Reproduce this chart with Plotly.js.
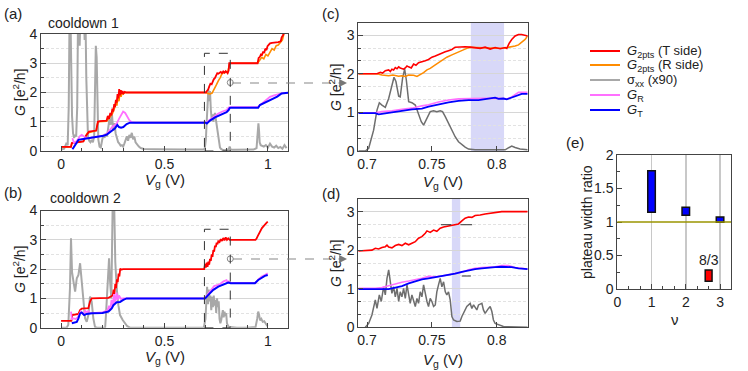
<!DOCTYPE html>
<html>
<head>
<meta charset="utf-8">
<script src="https://cdn.plot.ly/plotly-3.0.1.min.js"></script>
<style>
  body { margin: 0; background: #fff; }
  #plot { width: 748px; height: 371px; }
</style>
</head>
<body>
<div id="plot"></div>
<script>
// ---- panel (a): cooldown 1, full sweep ----
var aRedV = [0, 0.048, 0.052, 0.1, 0.108, 0.118, 0.128, 0.135, 0.17, 0.178, 0.188, 0.22, 0.226, 0.232, 0.238, 0.243, 0.248, 0.252, 0.257, 0.261, 0.265, 0.269, 0.273, 0.277, 0.281, 0.285, 0.289, 0.293, 0.297, 0.302, 0.308, 0.315, 0.33, 0.7, 0.705, 0.711, 0.716, 0.722, 0.728, 0.733, 0.738, 0.744, 0.75, 0.755, 0.76, 0.766, 0.772, 0.778, 0.784, 0.79, 0.796, 0.8, 0.805, 0.81, 0.813, 0.82, 0.95, 0.955, 0.961, 0.966, 0.971, 0.977, 0.982, 0.987, 0.993, 0.998, 1.004, 1.01, 1.02, 1.034, 1.05, 1.062, 1.066, 1.072, 1.077];
var aRedG = [0.14, 0.14, 0.27, 0.3, 0.33, 0.5, 0.62, 0.66, 0.7, 1.0, 1.02, 1.04, 1.2, 1.1, 1.3, 1.22, 1.45, 1.35, 1.6, 1.5, 1.75, 1.65, 1.95, 1.8, 2.12, 1.9, 2.08, 1.95, 2.05, 1.97, 2.02, 2.0, 2.0, 2.0, 2.05, 2.1, 2.2, 2.3, 2.28, 2.4, 2.45, 2.5, 2.58, 2.66, 2.64, 2.68, 2.7, 2.66, 2.72, 2.68, 2.73, 2.7, 2.66, 2.75, 3.0, 3.0, 3.0, 3.18, 3.22, 3.3, 3.28, 3.4, 3.35, 3.5, 3.45, 3.58, 3.62, 3.68, 3.7, 3.7, 3.72, 3.75, 3.88, 3.95, 4.02];
var aOrangeV = [0, 0.048, 0.052, 0.1, 0.108, 0.118, 0.128, 0.17, 0.178, 0.22, 0.23, 0.24, 0.25, 0.26, 0.265, 0.27, 0.275, 0.28, 0.285, 0.29, 0.295, 0.3, 0.31, 0.33, 0.7, 0.71, 0.72, 0.73, 0.74, 0.75, 0.76, 0.765, 0.77, 0.775, 0.78, 0.79, 0.8, 0.805, 0.81, 0.815, 0.82, 0.95, 0.96, 0.97, 0.98, 0.99, 1.0, 1.01, 1.02, 1.03, 1.04, 1.05, 1.06, 1.07, 1.077];
var aOrangeG = [0.14, 0.14, 0.27, 0.3, 0.33, 0.5, 0.62, 0.7, 1.0, 1.02, 1.1, 1.2, 1.3, 1.5, 1.7, 1.55, 1.9, 1.7, 2.05, 1.85, 2.0, 1.95, 2.0, 2.0, 2.0, 1.97, 1.95, 1.98, 2.1, 2.25, 2.4, 2.45, 2.52, 2.6, 2.66, 2.68, 2.7, 2.68, 2.85, 2.98, 3.0, 3.0, 3.1, 3.2, 3.15, 3.3, 3.25, 3.4, 3.5, 3.45, 3.6, 3.62, 3.7, 3.8, 4.0];
var aGrayV = [0, 0.015, 0.025, 0.032, 0.037, 0.041, 0.045, 0.049, 0.053, 0.058, 0.063, 0.068, 0.073, 0.078, 0.082, 0.086, 0.09, 0.094, 0.098, 0.102, 0.106, 0.11, 0.114, 0.118, 0.122, 0.126, 0.13, 0.136, 0.142, 0.148, 0.154, 0.16, 0.164, 0.168, 0.172, 0.176, 0.18, 0.186, 0.192, 0.198, 0.204, 0.21, 0.216, 0.222, 0.228, 0.234, 0.24, 0.246, 0.252, 0.258, 0.264, 0.27, 0.276, 0.282, 0.288, 0.294, 0.3, 0.306, 0.312, 0.318, 0.324, 0.33, 0.336, 0.342, 0.348, 0.354, 0.36, 0.368, 0.376, 0.385, 0.4, 0.45, 0.5, 0.55, 0.6, 0.65, 0.69, 0.695, 0.7, 0.704, 0.708, 0.712, 0.716, 0.72, 0.724, 0.728, 0.732, 0.736, 0.74, 0.744, 0.748, 0.752, 0.756, 0.76, 0.764, 0.768, 0.772, 0.776, 0.78, 0.79, 0.8, 0.81, 0.815, 0.82, 0.83, 0.86, 0.9, 0.93, 0.945, 0.95, 0.954, 0.957, 0.96, 0.965, 0.97, 0.98, 0.99, 1.0, 1.01, 1.02, 1.03, 1.04, 1.05, 1.06, 1.07, 1.08, 1.09];
var aGrayG = [0.05, 0.08, 0.25, 0.2, 1.5, 4.6, 4.8, 3.0, 1.2, 0.6, 0.45, 0.55, 0.5, 1.5, 4.6, 4.5, 3.6, 4.7, 4.2, 4.8, 4.4, 4.7, 3.8, 4.6, 2.5, 1.0, 0.5, 0.35, 0.3, 0.38, 0.3, 0.5, 2.5, 3.6, 3.2, 1.5, 0.4, 0.15, 0.12, 0.35, 0.55, 0.45, 0.6, 0.5, 0.8, 1.1, 0.9, 1.25, 0.7, 0.95, 0.6, 0.45, 0.3, 0.25, 0.18, 0.2, 0.15, 0.25, 0.4, 0.5, 0.35, 0.55, 0.45, 0.62, 0.4, 0.5, 0.3, 0.2, 0.15, 0.1, 0.07, 0.06, 0.05, 0.06, 0.05, 0.05, 0.05, 0.1, 0.4, 1.0, 1.6, 2.1, 1.7, 2.05, 1.4, 1.1, 1.25, 1.0, 1.2, 1.3, 1.1, 0.9, 0.6, 0.4, 0.2, 0.12, 0.08, 0.05, 0.04, 0.03, 0.04, 0.06, 0.15, 0.05, 0.04, 0.04, 0.05, 0.05, 0.1, 0.5, 0.95, 0.7, 0.3, 0.2, 0.18, 0.15, 0.2, 0.12, 0.25, 0.15, 0.12, 0.18, 0.1, 0.14, 0.08, 0.2, 0.1];
var aMagV = [0.055, 0.058, 0.062, 0.07, 0.08, 0.09, 0.1, 0.11, 0.12, 0.14, 0.16, 0.18, 0.2, 0.22, 0.23, 0.24, 0.25, 0.26, 0.27, 0.28, 0.29, 0.3, 0.31, 0.32, 0.33, 0.34, 0.36, 0.7, 0.72, 0.74, 0.76, 0.78, 0.8, 0.813, 0.82, 0.95, 0.97, 0.99, 1.01, 1.03, 1.05, 1.07, 1.098];
var aMagG = [0.44, 0.35, 0.28, 0.3, 0.38, 0.5, 0.55, 0.5, 0.45, 0.45, 0.48, 0.5, 0.52, 0.58, 0.68, 0.78, 0.85, 0.88, 0.95, 1.1, 1.25, 1.35, 1.3, 1.15, 1.05, 0.99, 0.97, 0.97, 1.08, 1.2, 1.28, 1.35, 1.4, 1.5, 1.5, 1.5, 1.62, 1.75, 1.85, 1.9, 1.95, 1.98, 1.99];
var aBlueV = [0.055, 0.065, 0.076, 0.084, 0.1, 0.12, 0.14, 0.17, 0.205, 0.221, 0.237, 0.25, 0.261, 0.272, 0.28, 0.29, 0.301, 0.317, 0.333, 0.35, 0.7, 0.705, 0.72, 0.744, 0.768, 0.8, 0.81, 0.815, 0.82, 0.953, 0.961, 0.975, 0.993, 1.01, 1.026, 1.045, 1.066, 1.08, 1.098];
var aBlueG = [0.06, 0.18, 0.32, 0.38, 0.4, 0.42, 0.45, 0.49, 0.52, 0.56, 0.66, 0.72, 0.78, 0.89, 0.82, 0.8, 0.82, 0.92, 0.97, 0.97, 0.97, 0.94, 1.04, 1.15, 1.23, 1.33, 1.4, 1.47, 1.48, 1.48, 1.57, 1.62, 1.68, 1.72, 1.8, 1.86, 1.97, 1.99, 1.99];

// ---- panel (b): cooldown 2, full sweep ----
var bRedV = [0, 0.05, 0.054, 0.07, 0.084, 0.092, 0.1, 0.132, 0.14, 0.148, 0.229, 0.245, 0.25, 0.254, 0.258, 0.262, 0.266, 0.27, 0.274, 0.278, 0.282, 0.286, 0.29, 0.3, 0.5, 0.692, 0.696, 0.7, 0.704, 0.708, 0.712, 0.716, 0.72, 0.724, 0.728, 0.732, 0.736, 0.74, 0.744, 0.748, 0.752, 0.756, 0.76, 0.766, 0.772, 0.778, 0.784, 0.79, 0.796, 0.802, 0.808, 0.815, 0.94, 0.945, 0.95, 0.955, 0.961, 0.966, 0.971, 0.977, 0.982, 0.987, 0.993, 0.999];
var bRedG = [0.23, 0.23, 0.43, 0.46, 0.47, 0.6, 0.65, 0.67, 0.89, 1.0, 1.02, 1.08, 1.12, 1.3, 1.15, 1.5, 1.35, 1.65, 1.55, 1.85, 1.75, 2.02, 1.98, 2.0, 2.0, 2.0, 2.18, 2.05, 2.22, 2.08, 2.25, 2.15, 2.35, 2.28, 2.5, 2.42, 2.65, 2.6, 2.8, 2.75, 2.9, 2.85, 2.95, 2.92, 3.02, 2.96, 3.06, 2.98, 3.08, 3.0, 3.05, 3.0, 3.0, 3.04, 3.12, 3.2, 3.28, 3.34, 3.4, 3.45, 3.5, 3.55, 3.58, 3.62];
var bGrayV = [0, 0.027, 0.035, 0.043, 0.048, 0.053, 0.06, 0.068, 0.076, 0.084, 0.092, 0.1, 0.108, 0.116, 0.124, 0.132, 0.14, 0.148, 0.156, 0.164, 0.172, 0.213, 0.217, 0.225, 0.232, 0.237, 0.243, 0.25, 0.256, 0.262, 0.269, 0.277, 0.285, 0.298, 0.309, 0.32, 0.333, 0.5, 0.69, 0.698, 0.702, 0.706, 0.71, 0.714, 0.718, 0.722, 0.726, 0.73, 0.734, 0.738, 0.742, 0.746, 0.75, 0.754, 0.758, 0.762, 0.766, 0.77, 0.774, 0.778, 0.782, 0.786, 0.79, 0.794, 0.798, 0.802, 0.808, 0.815, 0.85, 0.9, 0.94, 0.948, 0.953, 0.957, 0.962, 0.968, 0.975, 0.982, 0.99, 0.998];
var bGrayG = [0, 0, 0.1, 1.34, 3.05, 1.9, 1.57, 1.23, 1.69, 1.8, 2.2, 1.57, 0.77, 0.32, 0.2, 0.43, 1.06, 0.89, 0.32, 0.03, 0, 0, 0.43, 1.69, 2.37, 1.57, 1.0, 4.5, 4.5, 2.26, 1.34, 0.77, 0.43, 0.26, 0.15, 0.05, 0, 0, 0, 0.3, 0.9, 1.4, 0.8, 1.3, 0.9, 1.1, 0.6, 1.05, 0.7, 1.1, 0.75, 0.95, 0.5, 1.0, 0.7, 0.9, 0.3, 0.15, 0.25, 0.45, 0.6, 0.35, 0.55, 0.4, 0.5, 0.15, 0.05, 0.02, 0, 0, 0.02, 0.3, 0.55, 0.45, 0.25, 0.3, 0.2, 0.22, 0.12, 0.05];
var bMagV = [0.048, 0.052, 0.06, 0.07, 0.08, 0.088, 0.095, 0.1, 0.108, 0.116, 0.124, 0.132, 0.14, 0.15, 0.2, 0.225, 0.232, 0.238, 0.244, 0.25, 0.256, 0.262, 0.268, 0.274, 0.28, 0.29, 0.3, 0.317, 0.5, 0.696, 0.71, 0.725, 0.74, 0.755, 0.77, 0.785, 0.8, 0.805, 0.81, 0.82, 0.94, 0.955, 0.97, 0.985, 0.999];
var bMagG = [0.55, 0.3, 0.32, 0.3, 0.35, 0.45, 0.55, 0.5, 0.45, 0.58, 0.52, 0.57, 0.5, 0.5, 0.52, 0.6, 0.75, 0.6, 0.95, 0.7, 1.15, 0.85, 1.2, 0.95, 1.1, 0.98, 1.0, 1.0, 1.0, 1.0, 1.15, 1.3, 1.42, 1.45, 1.5, 1.58, 1.62, 1.55, 1.58, 1.53, 1.53, 1.66, 1.75, 1.8, 1.86];
var bBlueV = [0.052, 0.065, 0.076, 0.084, 0.092, 0.1, 0.106, 0.112, 0.124, 0.15, 0.2, 0.229, 0.245, 0.253, 0.269, 0.285, 0.301, 0.317, 0.5, 0.696, 0.712, 0.736, 0.76, 0.784, 0.808, 0.82, 0.937, 0.953, 0.97, 0.985, 0.999];
var bBlueG = [0.15, 0.17, 0.2, 0.32, 0.49, 0.52, 0.47, 0.43, 0.47, 0.49, 0.5, 0.55, 0.66, 0.77, 0.87, 0.88, 0.95, 1.0, 1.0, 1.0, 1.12, 1.29, 1.4, 1.48, 1.54, 1.52, 1.52, 1.63, 1.71, 1.77, 1.8];

// ---- panel (c): cooldown 1, zoom ----
var cRedV = [0.6933, 0.7077, 0.7103, 0.712, 0.7141, 0.7167, 0.718, 0.7192, 0.7205, 0.7218, 0.7231, 0.7244, 0.7256, 0.7269, 0.7282, 0.7295, 0.7308, 0.732, 0.7341, 0.7359, 0.7377, 0.7397, 0.7423, 0.7449, 0.7474, 0.75, 0.7526, 0.7551, 0.7577, 0.7603, 0.7628, 0.7654, 0.7679, 0.7705, 0.7756, 0.7795, 0.7833, 0.7872, 0.791, 0.7949, 0.7987, 0.8026, 0.8064, 0.8077, 0.8095, 0.8115, 0.8141, 0.8167, 0.8192, 0.8218, 0.8238];
var cRedG = [2.0, 2.0, 2.04, 2.02, 2.08, 2.1, 2.06, 2.12, 2.1, 2.16, 2.13, 2.18, 2.15, 2.14, 2.12, 2.15, 2.2, 2.18, 2.15, 2.25, 2.22, 2.29, 2.31, 2.34, 2.37, 2.43, 2.46, 2.5, 2.53, 2.57, 2.6, 2.63, 2.69, 2.7, 2.7, 2.69, 2.68, 2.66, 2.69, 2.64, 2.68, 2.65, 2.68, 2.66, 2.79, 2.89, 2.98, 3.02, 3.02, 2.99, 2.98];
var cOrangeV = [0.6933, 0.7077, 0.7115, 0.7167, 0.72, 0.7218, 0.7244, 0.7269, 0.7295, 0.732, 0.7359, 0.7385, 0.741, 0.7436, 0.7462, 0.7487, 0.7526, 0.7551, 0.7577, 0.7615, 0.7654, 0.7692, 0.7731, 0.7769, 0.7795, 0.79, 0.8, 0.8064, 0.8103, 0.8128, 0.8141, 0.8167, 0.8192, 0.8218, 0.8238];
var cOrangeG = [2.0, 2.0, 1.97, 1.95, 1.97, 1.96, 1.94, 1.95, 1.93, 1.97, 1.96, 1.93, 1.97, 2.03, 2.1, 2.14, 2.23, 2.29, 2.36, 2.43, 2.49, 2.55, 2.6, 2.66, 2.69, 2.67, 2.66, 2.67, 2.69, 2.7, 2.72, 2.75, 2.81, 2.89, 2.98];
var cGrayV = [0.6933, 0.6987, 0.7013, 0.7051, 0.7077, 0.7095, 0.7115, 0.7141, 0.7167, 0.7192, 0.7208, 0.7223, 0.7244, 0.7256, 0.7274, 0.729, 0.7303, 0.7321, 0.7346, 0.7372, 0.7397, 0.7418, 0.7436, 0.7462, 0.7487, 0.7513, 0.7538, 0.7564, 0.7582, 0.7603, 0.7628, 0.7654, 0.7679, 0.7705, 0.7731, 0.7756, 0.7782, 0.7833, 0.8064, 0.809, 0.8115, 0.8141, 0.8179, 0.8238];
var cGrayG = [0, 0, 0.07, 0.54, 1.06, 1.25, 1.19, 1.13, 1.36, 1.75, 1.91, 1.8, 1.42, 1.4, 1.88, 2.12, 1.84, 1.28, 1.25, 1.19, 0.98, 0.76, 0.67, 0.85, 1.02, 1.04, 1.02, 1.04, 1.02, 0.89, 0.72, 0.54, 0.37, 0.24, 0.16, 0.1, 0.05, 0.03, 0.03, 0.09, 0.13, 0.09, 0.05, 0.03];
var cMagV = [0.6933, 0.7064, 0.7115, 0.7192, 0.7269, 0.7346, 0.7423, 0.7474, 0.7551, 0.7628, 0.7705, 0.7782, 0.79, 0.8, 0.8077, 0.8115, 0.8167, 0.8238];
var cMagG = [0.99, 0.99, 1.02, 1.04, 1.08, 1.11, 1.17, 1.2, 1.27, 1.32, 1.35, 1.36, 1.36, 1.37, 1.35, 1.4, 1.52, 1.52];
var cBlueV = [0.6933, 0.7064, 0.709, 0.7141, 0.7192, 0.7269, 0.7346, 0.7423, 0.7474, 0.7551, 0.7628, 0.7705, 0.7782, 0.7859, 0.7936, 0.7962, 0.7987, 0.8013, 0.8051, 0.8077, 0.8115, 0.8154, 0.8192, 0.8238];
var cBlueG = [0.98, 0.98, 0.95, 0.98, 1.0, 1.04, 1.08, 1.1, 1.15, 1.21, 1.26, 1.3, 1.32, 1.32, 1.35, 1.36, 1.38, 1.35, 1.36, 1.34, 1.39, 1.45, 1.48, 1.48];
var cBandV = [0.78, 0.8056];

// ---- panel (d): cooldown 2, zoom ----
var dRedV = [0.6933, 0.7013, 0.7038, 0.7064, 0.709, 0.7115, 0.7141, 0.7154, 0.7167, 0.7192, 0.7218, 0.7244, 0.7269, 0.7295, 0.7321, 0.7346, 0.7372, 0.7397, 0.7423, 0.7449, 0.7462, 0.7487, 0.7513, 0.7538, 0.7564, 0.759, 0.7628, 0.7654, 0.7679, 0.7705, 0.7731, 0.7756, 0.7782, 0.7808, 0.7833, 0.7872, 0.791, 0.7949, 0.7987, 0.8026, 0.8038, 0.809, 0.8238];
var dRedG = [1.98, 1.99, 2.0, 2.05, 2.03, 2.07, 2.09, 2.13, 2.08, 2.06, 2.12, 2.15, 2.12, 2.18, 2.14, 2.18, 2.22, 2.31, 2.35, 2.44, 2.5, 2.46, 2.52, 2.49, 2.57, 2.6, 2.63, 2.65, 2.67, 2.68, 2.76, 2.83, 2.86, 2.85, 2.9, 2.91, 2.94, 2.96, 2.98, 3.01, 3.0, 3.0, 3.0];
var dGrayV = [0.6987, 0.7013, 0.7038, 0.7051, 0.7064, 0.7077, 0.7095, 0.711, 0.7128, 0.7141, 0.7154, 0.7167, 0.718, 0.7192, 0.7205, 0.7218, 0.7231, 0.7244, 0.7256, 0.7269, 0.7282, 0.7295, 0.7308, 0.7321, 0.7333, 0.7346, 0.7359, 0.7372, 0.7385, 0.7397, 0.741, 0.7423, 0.7436, 0.7449, 0.7462, 0.7474, 0.7487, 0.75, 0.7513, 0.7526, 0.7538, 0.7551, 0.7564, 0.7577, 0.759, 0.7603, 0.7615, 0.7628, 0.7641, 0.7654, 0.7667, 0.7692, 0.7718, 0.7731, 0.7756, 0.7769, 0.7795, 0.7808, 0.7821, 0.7846, 0.7859, 0.7885, 0.7897, 0.791, 0.7936, 0.7949, 0.7962, 0.7974, 0.7987, 0.8013, 0.8051, 0.8238];
var dGrayG = [0, 0.1, 0.32, 0.49, 0.71, 0.49, 0.84, 0.67, 1.05, 0.84, 1.27, 1.49, 1.11, 0.88, 1.05, 0.79, 1.01, 0.67, 0.92, 0.79, 1.01, 0.75, 1.1, 0.84, 0.62, 0.84, 0.67, 0.54, 0.75, 0.62, 0.92, 0.79, 1.1, 0.84, 0.67, 0.54, 0.75, 0.67, 0.54, 0.58, 0.92, 1.1, 1.27, 1.05, 1.18, 0.92, 0.84, 0.92, 0.71, 0.28, 0.19, 0.15, 0.16, 0.28, 0.45, 0.54, 0.62, 0.49, 0.58, 0.45, 0.58, 0.62, 0.45, 0.36, 0.49, 0.54, 0.41, 0.19, 0.1, 0.06, 0.02, 0];
var dMagV = [0.6933, 0.7064, 0.7115, 0.7167, 0.7218, 0.7269, 0.7321, 0.7372, 0.7423, 0.7474, 0.7526, 0.7577, 0.7628, 0.7679, 0.7731, 0.7782, 0.7833, 0.7885, 0.7936, 0.7987, 0.8038, 0.809, 0.8141, 0.8238];
var dMagG = [1.01, 1.01, 1.03, 1.08, 1.11, 1.17, 1.2, 1.23, 1.27, 1.32, 1.31, 1.33, 1.36, 1.39, 1.43, 1.49, 1.53, 1.55, 1.56, 1.57, 1.6, 1.6, 1.55, 1.51];
var dBlueV = [0.6933, 0.7167, 0.7218, 0.7269, 0.7321, 0.7372, 0.7423, 0.7474, 0.7526, 0.7577, 0.7628, 0.7679, 0.7731, 0.7782, 0.7833, 0.7885, 0.7936, 0.7987, 0.8038, 0.809, 0.8115, 0.8167, 0.8238];
var dBlueG = [0.99, 0.99, 1.03, 1.07, 1.14, 1.2, 1.24, 1.27, 1.3, 1.33, 1.36, 1.39, 1.44, 1.48, 1.51, 1.53, 1.55, 1.56, 1.57, 1.57, 1.56, 1.53, 1.51];
var dBandV = [0.7654, 0.7718];
// short plateau markers in (d)
var dMarkV = [0.757, 0.765, null, 0.772, 0.781, null, 0.773, 0.78];
var dMarkG = [2.66, 2.66, null, 2.66, 2.66, null, 1.33, 1.33];

// zoom boxes in (a)/(b) and the arrow start points
var zoomBoxV = [0.693, 0.818];
var zoomBoxTop = [3.34, 3.36];
var arrowStartG = [2.34, 2.35];

// ---- panel (e): plateau width ratio ----
var eNu = [1, 2, 3, 8 / 3];
var eLow = [1.145, 1.1, 0.995, 0.115];
var eHigh = [1.766, 1.22, 1.075, 0.284];
var eColors = ['#0000ff', '#0000ff', '#0000ff', '#ff0000'];

var cRed = '#ff0000', cOrange = '#ff8c00', cMag = '#ff70ff', cBlue = '#0000ff';
var cGrayLight = '#a8a8a8', cGrayDark = '#6e6e6e';
var FONT = 'Arial, "Liberation Sans", sans-serif';
var W = 748, H = 371;

function px(x) { return x / W; }
function py(y) { return 1 - y / H; }

function line(x, y, color, width, xa, ya) {
    return {
        type: 'scatter', mode: 'lines', x: x, y: y,
        xaxis: xa, yaxis: ya, showlegend: false, hoverinfo: 'skip',
        line: { color: color, width: width }
    };
}

var traces = [
    line(aGrayV, aGrayG, cGrayLight, 2, 'x', 'y'),
    line(aOrangeV, aOrangeG, cOrange, 1.6, 'x', 'y'),
    line(aRedV, aRedG, cRed, 1.8, 'x', 'y'),
    line(aMagV, aMagG, cMag, 1.8, 'x', 'y'),
    line(aBlueV, aBlueG, cBlue, 2, 'x', 'y'),

    line(bGrayV, bGrayG, cGrayLight, 2, 'x2', 'y2'),
    line(bRedV, bRedG, cRed, 1.8, 'x2', 'y2'),
    line(bMagV, bMagG, cMag, 1.8, 'x2', 'y2'),
    line(bBlueV, bBlueG, cBlue, 2, 'x2', 'y2'),

    line(cGrayV, cGrayG, cGrayDark, 1.5, 'x3', 'y3'),
    line(cOrangeV, cOrangeG, cOrange, 1.5, 'x3', 'y3'),
    line(cRedV, cRedG, cRed, 1.6, 'x3', 'y3'),
    line(cMagV, cMagG, cMag, 1.6, 'x3', 'y3'),
    line(cBlueV, cBlueG, cBlue, 1.8, 'x3', 'y3'),

    line(dGrayV, dGrayG, cGrayDark, 1.5, 'x4', 'y4'),
    line(dRedV, dRedG, cRed, 1.6, 'x4', 'y4'),
    line(dMagV, dMagG, cMag, 1.6, 'x4', 'y4'),
    line(dBlueV, dBlueG, cBlue, 1.8, 'x4', 'y4'),
    line(dMarkV, dMarkG, '#333', 1, 'x4', 'y4'),

    {
        type: 'scatter', mode: 'markers', x: [zoomBoxV[1]], y: [arrowStartG[0]],
        xaxis: 'x', yaxis: 'y', showlegend: false, hoverinfo: 'skip', cliponaxis: false,
        marker: { symbol: 'circle-open', size: 6, color: '#888', line: { width: 1 } }
    },
    {
        type: 'scatter', mode: 'markers', x: [zoomBoxV[1]], y: [arrowStartG[1]],
        xaxis: 'x2', yaxis: 'y2', showlegend: false, hoverinfo: 'skip', cliponaxis: false,
        marker: { symbol: 'circle-open', size: 6, color: '#888', line: { width: 1 } }
    },

    {
        type: 'bar', x: eNu, base: eLow,
        y: eHigh.map(function (h, i) { return h - eLow[i]; }),
        width: [0.22, 0.22, 0.22, 0.2],
        xaxis: 'x5', yaxis: 'y5', showlegend: false, hoverinfo: 'skip',
        marker: { color: eColors, line: { color: '#111', width: 1.5 } }
    }
];

var tickFont = { family: FONT, size: 14, color: '#222' };

function axis(domain, range, dtick, minorDtick, extra) {
    var a = {
        domain: domain, range: range, dtick: dtick, tick0: 0,
        ticks: 'inside', ticklen: 5, tickcolor: '#444',
        showline: true, mirror: true, linecolor: '#444', linewidth: 1,
        zeroline: false, showgrid: false, tickfont: tickFont, automargin: false,
        minor: { dtick: minorDtick, ticks: 'inside', ticklen: 3, tickcolor: '#444' }
    };
    for (var k in extra) a[k] = extra[k];
    return a;
}

var gridY = {
    showgrid: true, gridcolor: '#d6d6d6', gridwidth: 1
};

var layout = {
    width: W, height: H,
    margin: { l: 0, r: 0, t: 0, b: 0 },
    paper_bgcolor: '#fff', plot_bgcolor: 'rgba(0,0,0,0)',
    font: { family: FONT, color: '#222' },
    bargap: 0,

    xaxis: axis([px(41), px(288)], [-0.097, 1.097], 0.5, 0.1, { anchor: 'y' }),
    yaxis: axis([py(151), py(34)], [0, 4], 1, 0.5, Object.assign({ anchor: 'x' }, gridY)),
    xaxis2: axis([px(41), px(288)], [-0.097, 1.097], 0.5, 0.1, { anchor: 'y2' }),
    yaxis2: axis([py(327.7), py(210.5)], [0, 4], 1, 0.5, Object.assign({ anchor: 'x2' }, gridY)),
    xaxis3: axis([px(358.3), px(527.7)], [0.6933, 0.8238], 0.05, 0.01, { anchor: 'y3', tick0: 0.7 }),
    yaxis3: axis([py(151), py(22.7)], [0, 3.324], 1, 1 / 3, Object.assign({ anchor: 'x3' }, gridY)),
    xaxis4: axis([px(358.3), px(527.7)], [0.6933, 0.8238], 0.05, 0.01, { anchor: 'y4', tick0: 0.7 }),
    yaxis4: axis([py(327.3), py(199)], [0, 3.327], 1, 1 / 3, Object.assign({ anchor: 'x4' }, gridY)),
    xaxis5: axis([px(617.3), px(731)], [0, 3.32], 1, 1 / 3,
        { anchor: 'y5', showgrid: true, gridcolor: '#c8c8c8', gridwidth: 1.5 }),
    yaxis5: axis([py(289), py(155)], [0, 2], 0.5, 0.25, { anchor: 'x5' })
};

// fine dashed minor grid lines on the G axes
['yaxis', 'yaxis2', 'yaxis3', 'yaxis4'].forEach(function (k) {
    layout[k].minor.showgrid = true;
    layout[k].minor.gridcolor = '#e2e2e2';
    layout[k].minor.griddash = '3px,2px';
    layout[k].minor.gridwidth = 1;
});
layout.xaxis3.minor.ticks = '';
layout.xaxis4.minor.ticks = '';

var legendItems = [
    { color: cRed, text: '<i>G</i><sub>2pts</sub> (T side)', y: 51 },
    { color: cOrange, text: '<i>G</i><sub>2pts</sub> (R side)', y: 65 },
    { color: cGrayLight, text: 'σ<sub>xx</sub> (x90)', y: 80 },
    { color: cMag, text: '<i>G</i><sub>R</sub>', y: 95 },
    { color: cBlue, text: '<i>G</i><sub>T</sub>', y: 110 }
];

var shapes = [
    // zoom boxes
    { type: 'rect', xref: 'x', yref: 'y', x0: zoomBoxV[0], x1: zoomBoxV[1], y0: 0, y1: zoomBoxTop[0],
      line: { color: '#333', width: 1, dash: 'dash' } },
    { type: 'rect', xref: 'x2', yref: 'y2', x0: zoomBoxV[0], x1: zoomBoxV[1], y0: 0, y1: zoomBoxTop[1],
      line: { color: '#333', width: 1, dash: 'dash' } },
    // arrows toward the zoomed panels
    { type: 'line', xref: 'paper', yref: 'paper', x0: px(232), x1: px(340), y0: py(83), y1: py(83),
      line: { color: '#888', width: 1.2, dash: 'dash' } },
    { type: 'line', xref: 'paper', yref: 'paper', x0: px(233), x1: px(340), y0: py(259), y1: py(259),
      line: { color: '#888', width: 1.2, dash: 'dash' } },
    // shaded plateau windows
    { type: 'rect', xref: 'x3', yref: 'y3 domain', x0: cBandV[0], x1: cBandV[1], y0: 0, y1: 1,
      fillcolor: '#d8d8f8', line: { width: 0 }, layer: 'below' },
    { type: 'rect', xref: 'x4', yref: 'y4 domain', x0: dBandV[0], x1: dBandV[1], y0: 0, y1: 1,
      fillcolor: '#d8d8f8', line: { width: 0 }, layer: 'below' },
    // ratio = 1 reference line in (e)
    { type: 'line', xref: 'x5 domain', yref: 'y5', x0: 0, x1: 1, y0: 1, y1: 1,
      line: { color: '#9a9400', width: 1.5 } }
];

legendItems.forEach(function (it) {
    shapes.push({ type: 'line', xref: 'paper', yref: 'paper', x0: px(590), x1: px(620),
        y0: py(it.y), y1: py(it.y), line: { color: it.color, width: 2 } });
});

function note(text, x, y, size, opts) {
    var a = { text: text, xref: 'paper', yref: 'paper', x: px(x), y: py(y),
        showarrow: false, xanchor: 'center', yanchor: 'middle',
        font: { family: FONT, size: size, color: '#222' } };
    for (var k in opts) a[k] = opts[k];
    return a;
}

var gTitle = '<i>G</i> [e<sup>2</sup>/h]';
var vTitle = '<i>V</i><sub>g</sub> (V)';

var annotations = [
    note('(a)', 13, 13, 15),
    note('cooldown 1', 46, 23, 14, { xanchor: 'left' }),
    note('(b)', 13, 192, 15),
    note('cooldown 2', 48, 198, 14, { xanchor: 'left' }),
    note('(c)', 331, 13, 15),
    note('(d)', 331, 193, 15),
    note('(e)', 575, 142, 15),
    note(gTitle, 19, 92, 14, { textangle: -90 }),
    note(gTitle, 19, 269, 14, { textangle: -90 }),
    note(gTitle, 335, 87, 14, { textangle: -90 }),
    note(gTitle, 335, 263, 14, { textangle: -90 }),
    note(vTitle, 165, 180, 15),
    note(vTitle, 165, 357, 15),
    note(vTitle, 443, 182, 15),
    note(vTitle, 443, 360, 15),
    note('plateau width ratio', 587, 222, 14, { textangle: -90 }),
    note('ν', 675, 319, 15),
    { text: '8/3', xref: 'x5', yref: 'y5', x: eNu[3], y: eHigh[3] + 0.15, showarrow: false,
      font: { family: FONT, size: 14, color: '#222' } },
    // arrow heads
    { text: '', xref: 'paper', yref: 'paper', x: px(347), y: py(83), ax: -10, ay: 0,
      showarrow: true, arrowhead: 2, arrowsize: 1.3, arrowwidth: 1.2, arrowcolor: '#777' },
    { text: '', xref: 'paper', yref: 'paper', x: px(347), y: py(259), ax: -10, ay: 0,
      showarrow: true, arrowhead: 2, arrowsize: 1.3, arrowwidth: 1.2, arrowcolor: '#777' }
];

legendItems.forEach(function (it) {
    annotations.push(note(it.text, 625, it.y, 13, { xanchor: 'left' }));
});

layout.shapes = shapes;
layout.annotations = annotations;

Plotly.newPlot('plot', traces, layout, { staticPlot: true });
</script>
</body>
</html>
